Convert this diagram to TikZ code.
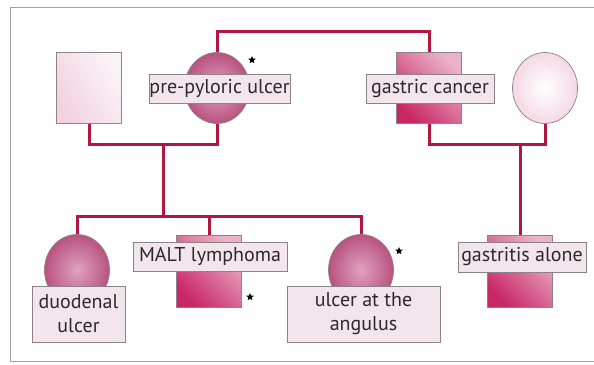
\documentclass[tikz,border=0pt]{standalone}
\usepackage{fontspec}
\setmainfont{PT Sans}
\usetikzlibrary{shapes.geometric}
\definecolor{kinred}{HTML}{B3163F}
\definecolor{deep}{HTML}{C92763}
\definecolor{pale}{HTML}{EBB3CB}
\definecolor{rosy}{HTML}{B9527F}
\definecolor{blush}{HTML}{DFA3BE}
\definecolor{tagfill}{HTML}{F3E5EC}
\definecolor{edge}{HTML}{8E8289}
\definecolor{frame}{HTML}{A0A0A0}
\definecolor{ink}{HTML}{2A2A2A}
\tikzset{fam/.style={x=1pt,y=-1pt},
  tie/.style={kinred,line width=3pt},
  male/.style={draw=edge,line width=.7pt,minimum width=65pt,minimum height=71pt,inner sep=0pt},
  female/.style={male,ellipse},
  hit/.style={left color=deep,right color=pale,shading angle=135},
  hitf/.style={inner color=blush,outer color=rosy},
  miss/.style={left color=pale!60!white,right color=tagfill!40!white,shading angle=120},
  missf/.style={inner color=white,outer color=pale!50!white},
  lbl/.style={draw=edge,fill=tagfill,line width=.7pt,text=ink,inner sep=0pt,align=center,font=\fontsize{20}{24}\selectfont},
  asterisk/.style={star,star points=5,star point ratio=2.2,fill=black,minimum size=8pt,inner sep=0pt}}

\begin{document}
\begin{tikzpicture}[fam]
  \useasboundingbox (0,0) rectangle (594,364);
  \draw[frame,line width=1pt] (594,7)--(10,7)--(10,361)--(594,361);
  % parents
  \node[male,miss] (gf) at (89,88){};
  \node[female,hitf] (pp) at (217,88){};
  \node[male,hit] (gc) at (429,88){};
  \node[female,missf] (gm) at (545,88){};
  % children
  \node[female,hitf] (du) at (77,270){};
  \node[male,hit,minimum height=72pt] (ml) at (209,271){};
  \node[female,hitf] (ua) at (361,270){};
  \node[male,hit,minimum height=72pt] (ga) at (520,271){};
  % lines
  \coordinate (lj) at (163,144);\coordinate (rj) at (520,144);\coordinate (sib) at (163,216);
  \draw[tie] (pp.north)--++(0,-21)-|(gc.north);
  \draw[tie] (gf.south)|-(lj)-|(pp.south);
  \draw[tie] (gc.south)|-(rj)-|(gm.south);
  \draw[tie] (lj)--(sib);\draw[tie] (rj)--(ga.north);
  \draw[tie] (du.north)|-(sib)-|(ua.north);
  \draw[tie] (ml.north)--(ml.north|-sib);
  % labels
  \node[lbl,minimum width=141pt,minimum height=29pt] (Lpp) at (219.5,88.5){pre-pyloric ulcer};
  \node[lbl,minimum width=128pt,minimum height=29pt] (Lgc) at (430,88.5){gastric cancer};
  \node[lbl,minimum width=93pt,minimum height=56pt] (Ldu) at (78.5,314){duodenal\\ulcer};
  \node[lbl,minimum width=154pt,minimum height=29pt] (Lml) at (210,256.5){MALT lymphoma};
  \node[lbl,minimum width=153pt,minimum height=56pt] (Lua) at (363.5,314){ulcer at the\\angulus};
  \node[lbl,minimum width=128pt,minimum height=30pt] (Lga) at (522,257){gastritis alone};
  \node[asterisk] (spp) at (252,60){};
  \node[asterisk] (sml) at (250,297){};
  \node[asterisk] (sua) at (399,251){};
\end{tikzpicture}
\end{document}
